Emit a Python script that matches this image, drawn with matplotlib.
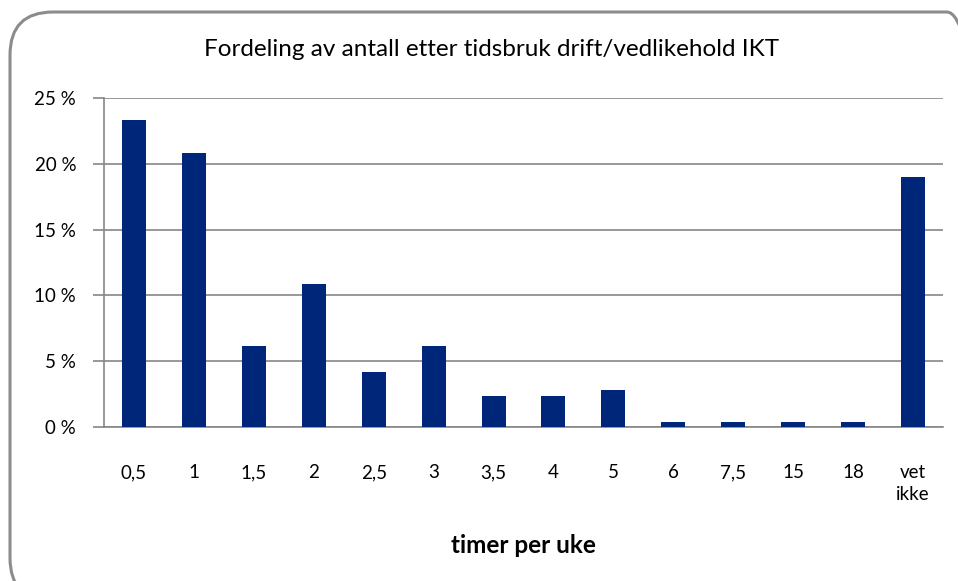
import matplotlib
matplotlib.use("Agg")
import matplotlib.pyplot as plt
import matplotlib.ticker as ticker
from matplotlib.patches import FancyBboxPatch

plt.rcParams["font.family"] = ["Lato", "DejaVu Sans"]

# --- data ---
categories = ["0,5", "1", "1,5", "2", "2,5", "3", "3,5", "4", "5", "6", "7,5", "15", "18", "vet\nikke"]
shares = [23.3, 20.85, 6.15, 10.9, 4.2, 6.15, 2.35, 2.35, 2.8, 0.4, 0.4, 0.4, 0.4, 19.0]
y_ticks = [0, 5, 10, 15, 20, 25]

BAR_COLOR = "#00267a"
GRID_COLOR = "#868686"

fig = plt.figure(figsize=(9.58, 5.81), dpi=100)

# rounded chart border, partly running off the canvas like the original
border = FancyBboxPatch((10 / 958, -20 / 581), 980 / 958, 589 / 581,
                        boxstyle="round,pad=0,rounding_size=0.045",
                        transform=fig.transFigure, facecolor="none",
                        edgecolor="#8c8c8c", linewidth=2.2, clip_on=False,
                        mutation_aspect=958 / 581)
fig.patches.append(border)

ax = fig.add_axes([104 / 958, (581 - 427) / 581, (943 - 104) / 958, (427 - 98) / 581])

x = range(len(categories))
ax.bar(x, shares, width=0.4, color=BAR_COLOR, zorder=3)

ax.set_xlim(-0.5, len(categories) - 0.5)
ax.set_ylim(0, 25)
ax.set_yticks(y_ticks)
ax.yaxis.set_major_formatter(ticker.FuncFormatter(lambda v, _: f"{int(v)} %"))
ax.set_xticks(list(x))
ax.set_xticklabels(categories, fontsize=13.5, linespacing=1.35, va="top")

ax.grid(axis="y", color=GRID_COLOR, linewidth=1.2, zorder=0)
for side in ["top", "right"]:
    ax.spines[side].set_visible(False)
for side in ["left", "bottom"]:
    ax.spines[side].set_color(GRID_COLOR)
    ax.spines[side].set_linewidth(1.2)

ax.tick_params(axis="y", length=8, color=GRID_COLOR, width=1.2, labelsize=13.5, pad=12)
ax.tick_params(axis="x", length=0, pad=27)

ax.set_xlabel("timer per uke", fontsize=17.5, fontweight="bold", labelpad=22)
fig.text(492 / 958, 1 - 50 / 581, "Fordeling av antall etter tidsbruk drift/vedlikehold IKT",
         ha="center", va="center", fontsize=17.5)

plt.savefig("out.png", dpi=100)
plt.close()
